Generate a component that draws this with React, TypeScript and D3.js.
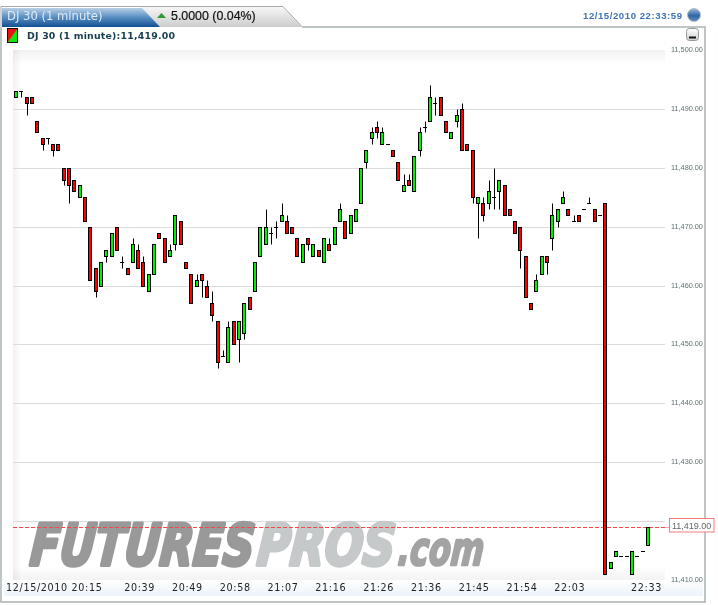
import React, { useEffect, useRef } from 'react';
import * as d3 from 'd3';

// prices are stored as points above this base
const BASE = 11400;
const opens = [92,93,92,92,88,85,85,84,84,80,80,78,75,75,70,63,60,65,65,70,64,63,64,66,64,59,62,69,68,65,67,71,64,62,60,62,60,57,54,48,47,54,51,52,58,59,65,67,69,70,71,71,70,68,64,68,65,66,64,67,67,71,71,69,71,74,81,85,87,84,84,83,81,76,78,76,83,87,88,91,92,88,85,88,90,84,83,74,74,74,75,76,77,73,71,70,65,57,59,62,65,68,71,74,73,71,72,73,74,73,72,74,12,14,14,14,11,14,15,16];
const highs = [93,93,92,92,88,85,85,84,84,80,80,78,77,75,70,63,64,66,69,70,65,63,68,67,65,62,67,69,68,67,72,71,64,62,62,62,61,59,54,49,54,54,54,57,58,64,70,73,70,71,74,72,70,68,67,68,67,66,68,68,70,74,71,72,73,80,83,87,88,87,84,83,81,79,79,82,87,88,94,92,92,88,86,90,91,84,83,75,75,78,80,78,77,73,71,70,65,57,62,65,65,74,73,76,73,72,72,73,75,73,72,74,13,15,14,14,15,14,15,19];
const lows = [92,92,89,91,86,83,84,82,83,77,74,76,75,71,61,58,60,64,65,66,63,62,64,63,60,59,62,68,64,65,66,67,63,57,60,58,58,54,46,48,47,50,47,51,56,59,65,67,67,68,71,69,69,65,64,66,65,65,64,66,67,71,68,69,71,74,80,84,85,84,84,82,78,76,77,76,82,86,88,89,89,86,85,87,83,83,74,68,71,73,73,73,72,72,69,63,58,56,59,62,62,66,70,74,72,71,71,73,74,71,72,11,12,14,14,14,11,14,15,16];
const closes = [93,93,91,91,86,84,85,83,83,78,77,76,77,71,61,59,64,66,69,66,64,62,67,63,60,62,67,68,64,66,72,67,63,57,61,61,58,55,47,48,53,50,54,57,56,64,70,70,69,70,72,69,69,65,67,67,67,65,68,66,70,73,68,72,73,80,83,86,86,86,84,82,78,77,77,82,86,87,92,91,89,86,86,89,83,83,75,75,72,76,75,78,72,72,69,66,58,56,61,65,64,72,73,75,72,71,71,73,74,71,72,11,13,15,14,14,15,14,15,19];

const priceTicks = [11500, 11490, 11480, 11470, 11460, 11450, 11440, 11430, 11420, 11410];
const timeBars = [23, 32, 41, 50, 59, 68, 77, 86, 95, 104];
const timeLabels = ['20:39', '20:49', '20:58', '21:07', '21:16', '21:26', '21:36', '21:45', '21:54', '22:03'];
const lastPrice = 11419;

const App: React.FC = () => {
  const svgRef = useRef<SVGSVGElement>(null);

  useEffect(() => {
    if (!svgRef.current) return;
    const svg = d3.select(svgRef.current);
    svg.selectAll('*').remove();

    const x = d3.scaleLinear().domain([0, opens.length - 1]).range([16, 647.9]);
    const y = d3.scaleLinear().domain([11410, 11500]).range([580, 50]);
    const px = (v: number) => Math.round(y(v)) + 0.5;
    const candles = opens.map((o, i) => ({
      i,
      open: o + BASE,
      high: highs[i] + BASE,
      low: lows[i] + BASE,
      close: closes[i] + BASE,
    }));

    // gradients
    const defs = svg.append('defs');
    const addGradient = (id: string, x2: number, y2: number, stops: [string, string][]) => {
      const g = defs.append('linearGradient').attr('id', id)
        .attr('x1', 0).attr('y1', 0).attr('x2', x2).attr('y2', y2);
      stops.forEach(([offset, color]) => g.append('stop').attr('offset', offset).attr('stop-color', color));
    };
    addGradient('tabBlue', 0, 1, [['0%', '#b9d0e6'], ['45%', '#5f93c6'], ['100%', '#104f90']]);
    addGradient('tabGrey', 0, 1, [['0%', '#f6f6f6'], ['100%', '#cdcdcd']]);
    addGradient('strip', 0, 1, [['0%', '#ffffff'], ['100%', '#ecf3fb']]);
    addGradient('fadeTop', 0, 1, [['0%', '#f1f1f1'], ['100%', '#ffffff']]);
    addGradient('fadeBottom', 0, 1, [['0%', '#ffffff'], ['100%', '#f3f3f3']]);
    addGradient('fadeLeft', 1, 0, [['0%', '#f1f1f1'], ['100%', '#ffffff']]);
    addGradient('globe', 0, 1, [['0%', '#9db9dc'], ['55%', '#2f66a8'], ['100%', '#5f8fc4']]);
    addGradient('button', 0, 1, [['0%', '#ffffff'], ['100%', '#cfcfcf']]);

    // tabs and panel frame
    svg.append('path').attr('d', 'M1,27 L1,602 L705,602 L705,27 L302,27')
      .attr('fill', '#fff').attr('stroke', '#a8b2b2').attr('stroke-width', 1.5);
    svg.append('path').attr('d', 'M140,7 L283,7 L302,27 L158,27 Z')
      .attr('fill', 'url(#tabGrey)');
    svg.append('path').attr('d', 'M1,27 L1,6.5 L283,6.5 L302,26.5')
      .attr('fill', 'none').attr('stroke', '#a9a9a9');
    svg.append('path').attr('d', 'M2,8 L142,8 L160,27 L2,27 Z').attr('fill', 'url(#tabBlue)');
    svg.append('text').attr('x', 7).attr('y', 20).attr('fill', '#dfeaf5')
      .style('font-family', '"DejaVu Sans"').style('font-size', '11.6px').text('DJ 30 (1 minute)');
    svg.append('path').attr('d', 'M157,18 L161.5,13 L166,18 Z').attr('fill', '#2f9a30');
    svg.append('text').attr('x', 171).attr('y', 20).attr('fill', '#111')
      .style('font-family', '"Liberation Sans"').style('font-size', '12.4px')
      .style('stroke', '#111').style('stroke-width', '0.2px').text('5.0000 (0.04%)');
    svg.append('text').attr('x', 583).attr('y', 19).attr('fill', '#3d74b3')
      .style('font-family', '"Liberation Sans"').style('font-weight', 'bold').style('font-size', '9.6px')
      .style('letter-spacing', '0.55px').text('12/15/2010 22:33:59');
    svg.append('circle').attr('cx', 694).attr('cy', 15).attr('r', 6.5)
      .attr('fill', 'url(#globe)').attr('stroke', '#bbb').attr('stroke-width', 1);

    // legend swatch and header
    svg.append('rect').attr('x', 7.5).attr('y', 28.5).attr('width', 10).attr('height', 14).attr('fill', '#0ee60e');
    svg.append('path').attr('d', 'M7.5,28.5 L17.5,28.5 L7.5,42.5 Z').attr('fill', '#ee1111');
    svg.append('rect').attr('x', 7.5).attr('y', 28.5).attr('width', 10).attr('height', 14)
      .attr('fill', 'none').attr('stroke', '#111');
    svg.append('text').attr('x', 27).attr('y', 39).attr('fill', '#173f4f')
      .style('font-family', '"DejaVu Sans"').style('font-weight', 'bold').style('font-size', '9.4px')
      .style('letter-spacing', '0.2px').text('DJ 30 (1 minute):11,419.00');
    svg.append('rect').attr('x', 686.5).attr('y', 28.5).attr('width', 12).attr('height', 12).attr('rx', 3)
      .attr('fill', 'url(#button)').attr('stroke', '#999');
    svg.append('rect').attr('x', 689).attr('y', 36.5).attr('width', 7).attr('height', 2).attr('fill', '#111');

    // plot background fades
    svg.append('rect').attr('x', 13).attr('y', 50).attr('width', 652).attr('height', 14).attr('fill', 'url(#fadeTop)');
    svg.append('rect').attr('x', 13).attr('y', 566).attr('width', 652).attr('height', 14).attr('fill', 'url(#fadeBottom)');
    svg.append('rect').attr('x', 13).attr('y', 50).attr('width', 8).attr('height', 530).attr('fill', 'url(#fadeLeft)')
      .style('mix-blend-mode', 'multiply');

    // bottom time strip
    svg.append('rect').attr('x', 4).attr('y', 580).attr('width', 699).attr('height', 16).attr('fill', 'url(#strip)');

    // grid lines
    svg.append('g').selectAll('line')
      .data(priceTicks.filter(t => t > 11410 && t < 11500))
      .join('line')
      .attr('x1', 13).attr('x2', 665)
      .attr('y1', d => px(d)).attr('y2', d => px(d))
      .attr('stroke', '#dcdcdc').attr('stroke-width', 1);

    // watermark, squeezed horizontally so the letters read heavy and narrow
    const mark = svg.append('g')
      .style('font-family', '"DejaVu Sans"').style('font-weight', 'bold').style('font-style', 'italic');
    const addMark = (label: string, left: number, baseline: number, size: number, width: number, weight: number, color: string) => {
      const text = mark.append('text').attr('fill', color).attr('stroke', color)
        .attr('stroke-width', weight).attr('stroke-linejoin', 'round')
        .style('font-size', `${size}px`).text(label);
      const natural = (text.node() as SVGTextElement).getComputedTextLength();
      text.attr('transform', `translate(${left},${baseline}) skewX(-5) scale(${width / natural},1)`);
    };
    addMark('FUTURES', 29, 565, 57, 224, 3.8, '#999999');
    addMark('PROS', 256, 565, 57, 138, 3.8, '#c6c9c9');
    addMark('.com', 397, 565, 46, 86, 2.4, '#a3a3a3');

    // y axis labels
    svg.append('g').selectAll('text')
      .data(priceTicks)
      .join('text')
      .attr('x', 671).attr('y', d => y(d) + 2).attr('fill', '#5d7272')
      .style('font-family', '"Liberation Sans"').style('font-size', '7.3px')
      .text(d => d3.format(',.2f')(d));

    // x axis labels
    const timeAxis = svg.append('g').attr('fill', '#222')
      .style('font-family', '"DejaVu Sans"').style('font-size', '9.6px').style('letter-spacing', '0.65px');
    timeAxis.append('text').attr('x', 6).attr('y', 591).text('12/15/2010 20:15');
    timeAxis.selectAll('text.time')
      .data(timeLabels)
      .join('text')
      .attr('class', 'time')
      .attr('x', (_, i) => x(timeBars[i]) + 1.5).attr('y', 591).attr('text-anchor', 'middle')
      .text(d => d);
    timeAxis.append('text').attr('x', 662).attr('y', 591).attr('text-anchor', 'end').text('22:33');

    // last price line
    const lastY = px(lastPrice);
    svg.append('line').attr('x1', 13).attr('x2', 665).attr('y1', lastY).attr('y2', lastY)
      .attr('stroke', '#f24a4a').attr('stroke-width', 1).attr('stroke-dasharray', '4,2');
    svg.append('line').attr('x1', 665).attr('x2', 670).attr('y1', lastY).attr('y2', lastY)
      .attr('stroke', '#f4a0a0').attr('stroke-width', 1);

    // candles
    const cx = (i: number) => Math.round(x(i));
    const group = svg.append('g').selectAll('g').data(candles).join('g');
    group.append('line')
      .attr('x1', d => cx(d.i) + 0.5).attr('x2', d => cx(d.i) + 0.5)
      .attr('y1', d => px(d.high)).attr('y2', d => px(d.low))
      .attr('stroke', '#000').attr('stroke-width', 1);
    group.filter(d => d.open !== d.close).append('rect')
      .attr('x', d => cx(d.i) - 1.5)
      .attr('y', d => px(Math.max(d.open, d.close)))
      .attr('width', 3)
      .attr('height', d => px(Math.min(d.open, d.close)) - px(Math.max(d.open, d.close)))
      .attr('fill', d => (d.close > d.open ? '#00f000' : '#ff0000'))
      .attr('stroke', '#000').attr('stroke-width', 1);
    group.filter(d => d.open === d.close).append('line')
      .attr('x1', d => cx(d.i) - 2).attr('x2', d => cx(d.i) + 2)
      .attr('y1', d => px(d.open)).attr('y2', d => px(d.open))
      .attr('stroke', '#000').attr('stroke-width', 1);

    // last price box
    svg.append('rect').attr('x', 669.5).attr('y', 518.5).attr('width', 44.5).attr('height', 13.5)
      .attr('fill', '#fff').attr('stroke', '#f27d7d').attr('stroke-width', 1);
    svg.append('text').attr('x', 672).attr('y', 528.5).attr('fill', '#666')
      .style('font-family', '"Liberation Sans"').style('font-size', '9px')
      .text(d3.format(',.2f')(lastPrice));
  }, []);

  return (
    <svg
      ref={svgRef}
      width={718}
      height={605}
      style={{ position: 'absolute', left: 0, top: 0, background: '#fff' }}
    />
  );
};

export default App;
